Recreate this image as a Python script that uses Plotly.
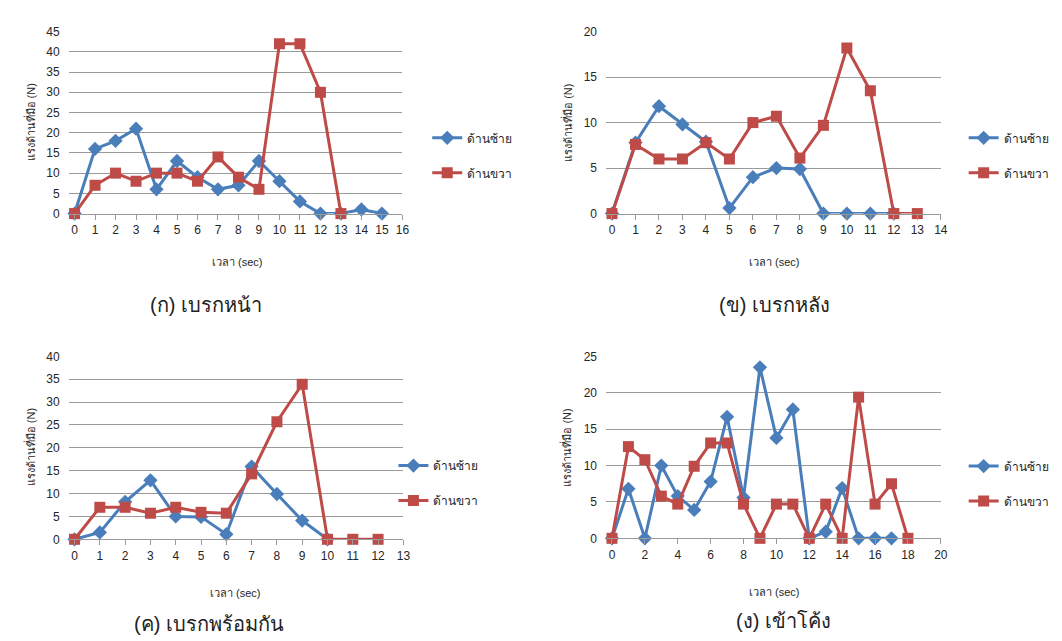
import plotly.graph_objects as go

W, H = 1062, 641

# ---------------- data ----------------
# (ก) เบรกหน้า
a_left_x = list(range(0, 16))
a_left_y = [0, 16, 18, 21, 6, 13, 9, 6, 7, 13, 8, 3, 0, 0, 1, 0]
a_right_x = list(range(0, 14))
a_right_y = [0, 7, 10, 8, 10, 10, 8, 14, 9, 6, 42, 42, 30, 0]

# (ข) เบรกหลัง
b_left_x = list(range(0, 13))
b_left_y = [0, 7.8, 11.8, 9.8, 7.9, 0.6, 4, 5, 4.9, 0, 0, 0, 0]
b_right_x = list(range(0, 14))
b_right_y = [0, 7.6, 6, 6, 7.8, 6, 10, 10.7, 6.1, 9.7, 18.2, 13.5, 0, 0]

# (ค) เบรกพร้อมกัน
c_left_x = list(range(0, 11))
c_left_y = [0, 1.5, 8.2, 12.9, 5, 4.9, 1.1, 15.9, 9.9, 4.1, 0]
c_right_x = list(range(0, 13))
c_right_y = [0, 7, 7, 5.7, 7, 5.9, 5.7, 14.3, 25.7, 33.9, 0, 0, 0]

# (ง) เข้าโค้ง
d_left_x = list(range(0, 18))
d_left_y = [0, 6.8, 0, 10, 5.8, 3.9, 7.8, 16.7, 5.6, 23.5, 13.8, 17.7, 0, 0.9, 6.9, 0, 0, 0]
d_right_x = list(range(0, 19))
d_right_y = [0, 12.6, 10.8, 5.8, 4.7, 9.9, 13.1, 13.1, 4.7, 0, 4.7, 4.7, 0, 4.7, 0, 19.4, 4.7, 7.5, 0]

series_names = ["ด้านซ้าย", "ด้านขวา"]
captions = ["(ก) เบรกหน้า", "(ข) เบรกหลัง", "(ค) เบรกพร้อมกัน", "(ง) เข้าโค้ง"]
x_title = "เวลา (sec)"
y_title = "แรงด้านที่มือ (N)"

y_max = [45, 20, 40, 25]
y_dtick = [5, 5, 5, 5]
x_max = [16, 14, 13, 20]
x_dtick = [1, 1, 1, 2]

panels = [
    (a_left_x, a_left_y, a_right_x, a_right_y),
    (b_left_x, b_left_y, b_right_x, b_right_y),
    (c_left_x, c_left_y, c_right_x, c_right_y),
    (d_left_x, d_left_y, d_right_x, d_right_y),
]

# ---------------- layout geometry (pixels) ----------------
# plot area: (left gridline start, x=0 pos, x=max pos, top, bottom)
geo = [
    (61, 67, 397, 17, 203),
    (602, 608, 939, 17, 203),
    (61, 67, 398, 349, 536),
    (602, 608, 939, 349, 535),
]
legend_left = [422, 962, 388, 962]
legend_mid = [143.5, 143.5, 478.5, 479]
xtitle_pos = [(231, 253), (772, 253), (229, 591), (772, 590)]
ytitle_pos = [(22, 110), (562, 110), (22, 442), (562, 442)]
caption_pos = [(199, 296), (772, 296), (202, 623), (781, 620)]

BLUE = "#4A7EBB"
RED = "#BE4B48"
GRID = "#9a9a9a"
TXT = "#262626"
FONT = "Liberation Sans, Noto Sans, sans-serif"

fig = go.Figure()
layout = dict(
    width=W, height=H,
    margin=dict(l=0, r=0, t=0, b=0),
    paper_bgcolor="white", plot_bgcolor="white",
    showlegend=True,
    font=dict(family=FONT, color=TXT),
    annotations=[],
)

for i, (lx, ly, rx, ry) in enumerate(panels):
    k = "" if i == 0 else str(i + 1)
    gs, x0, x1, top, bot = geo[i]
    unit = (x1 - x0) / x_max[i]
    xmin = -(x0 - gs) / unit
    leg = "legend" if i == 0 else f"legend{i + 1}"

    fig.add_trace(go.Scatter(
        x=lx, y=ly, mode="lines+markers", name=series_names[0],
        line=dict(color=BLUE, width=3),
        marker=dict(symbol="diamond", size=11, color=BLUE),
        xaxis="x" + k, yaxis="y" + k, legend=leg, legendgroup=f"l{i}",
        cliponaxis=False,
    ))
    fig.add_trace(go.Scatter(
        x=rx, y=ry, mode="lines+markers", name=series_names[1],
        line=dict(color=RED, width=3),
        marker=dict(symbol="square", size=11, color=RED),
        xaxis="x" + k, yaxis="y" + k, legend=leg, legendgroup=f"r{i}",
        cliponaxis=False,
    ))

    layout["xaxis" + k] = dict(
        domain=[gs / W, x1 / W], anchor="y" + k,
        range=[xmin, x_max[i]], tick0=0, dtick=x_dtick[i],
        showgrid=False, zeroline=False,
        showline=True, linecolor=GRID, linewidth=1,
        ticks="outside", ticklen=5, tickcolor=GRID,
        tickfont=dict(size=12, color=TXT, family=FONT),
        fixedrange=True,
    )
    layout["yaxis" + k] = dict(
        domain=[1 - bot / H, 1 - top / H], anchor="x" + k,
        range=[0, y_max[i]], dtick=y_dtick[i],
        showgrid=True, gridcolor=GRID, gridwidth=1,
        zeroline=False, showline=False, ticks="",
        ticklabelstandoff=8,
        tickfont=dict(size=12, color=TXT, family=FONT),
        fixedrange=True,
    )
    layout[leg] = dict(
        x=legend_left[i] / W, xanchor="left",
        y=1 - legend_mid[i] / H, yanchor="middle",
        bgcolor="rgba(0,0,0,0)", borderwidth=0,
        font=dict(size=12, color=TXT, family=FONT),
        tracegroupgap=16, traceorder="grouped",
    )

    xt, yt = xtitle_pos[i]
    layout["annotations"].append(dict(
        text=x_title, x=xt / W, y=1 - yt / H, xref="paper", yref="paper",
        showarrow=False, xanchor="center", yanchor="middle",
        font=dict(size=11, color=TXT, family=FONT),
    ))
    yx, yy = ytitle_pos[i]
    layout["annotations"].append(dict(
        text=y_title, x=yx / W, y=1 - yy / H, xref="paper", yref="paper",
        showarrow=False, xanchor="center", yanchor="middle", textangle=-90,
        font=dict(size=11, color=TXT, family=FONT),
    ))
    cx, cy = caption_pos[i]
    layout["annotations"].append(dict(
        text=captions[i], x=cx / W, y=1 - cy / H, xref="paper", yref="paper",
        showarrow=False, xanchor="center", yanchor="middle",
        font=dict(size=20, color="#222222", family=FONT),
    ))

fig.update_layout(**layout)
fig.write_html("out.html")
